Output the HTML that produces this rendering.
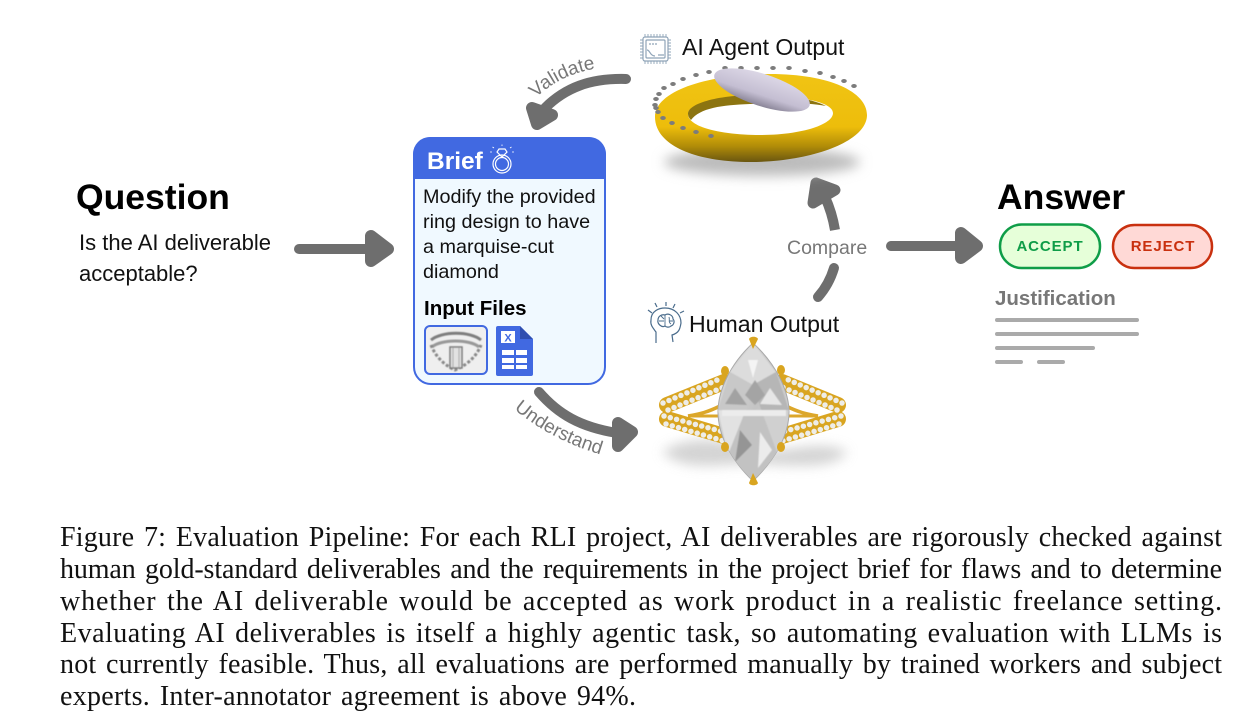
<!DOCTYPE html>
<html><head><meta charset="utf-8"><style>
html,body{margin:0;padding:0;background:#fff;width:1242px;height:720px;overflow:hidden}
svg{display:block}
text{font-family:"Liberation Sans",Arial,sans-serif}
.cap{font-family:"Liberation Serif","Times New Roman",serif;font-size:28px;fill:#111;word-spacing:2.5px}
</style></head><body>
<svg width="1242" height="720" viewBox="0 0 1242 720" xmlns="http://www.w3.org/2000/svg">
<defs>
<filter id="b6" x="-30%" y="-80%" width="160%" height="260%"><feGaussianBlur stdDeviation="6"/></filter>
<filter id="b1" x="-10%" y="-10%" width="120%" height="120%"><feGaussianBlur stdDeviation="0.6"/></filter>
<linearGradient id="gold" x1="0" y1="0" x2="0" y2="1">
<stop offset="0" stop-color="#f0c414"/><stop offset=".6" stop-color="#edbd0b"/><stop offset=".82" stop-color="#b18c08"/><stop offset="1" stop-color="#6a5610"/></linearGradient>
<linearGradient id="gem" x1="0" y1="0" x2="0" y2="1">
<stop offset="0" stop-color="#dcd7e6"/><stop offset=".65" stop-color="#c4bed2"/><stop offset="1" stop-color="#8a8598"/></linearGradient>
<linearGradient id="dia" x1="0" y1="0" x2="1" y2="1">
<stop offset="0" stop-color="#dedede"/><stop offset=".5" stop-color="#c4c4c4"/><stop offset="1" stop-color="#dadada"/></linearGradient>
<clipPath id="mq"><path d="M753 343C777 365 789 392 789 412C789 435 775 460 753 481C731 460 718 435 718 412C718 392 729 365 753 343Z"/></clipPath>
</defs>

<!-- Question -->
<text x="76" y="209" font-size="35.500" font-weight="700" fill="#000">Question</text>
<text x="79" y="250" font-size="22" fill="#111">Is the AI deliverable</text>
<text x="79" y="281" font-size="22" fill="#111">acceptable?</text>

<!-- arrows -->
<g fill="#6e6e6e" stroke="#6e6e6e" stroke-linejoin="round" stroke-linecap="round">
<path d="M299 249H370" fill="none" stroke-width="10"/>
<path d="M371 236L388 249L371 261Z" stroke-width="12"/>
<path d="M891 246H960" fill="none" stroke-width="10"/>
<path d="M961 233L977 246L961 258Z" stroke-width="12"/>
<path d="M626 79C590 78 565 88 545 108" fill="none" stroke-width="10"/>
<path d="M532 108L537 124L552 115Z" stroke-width="12"/>
<path d="M539 392C558 414 580 427 617 433" fill="none" stroke-width="10"/>
<path d="M618 423L632 432L618 446Z" stroke-width="12"/>
<path d="M818 297C826 288 831 278 834 268" fill="none" stroke-width="10"/>
<path d="M835 230C833 218 830 208 825 197" fill="none" stroke-width="10" stroke-linecap="butt"/>
<path d="M816 183L835 190L813 203Z" stroke-width="11"/>
</g>

<text font-size="19" fill="#777"><textPath href="#vp">Validate</textPath></text>
<text font-size="19" fill="#777"><textPath href="#up">Understand</textPath></text>
<path id="vp" d="M536 98Q562 72 606 67" fill="none"/>
<path id="up" d="M514 409Q552 441 606 456" fill="none"/>
<text x="787" y="254" font-size="19.500" fill="#777">Compare</text>

<!-- Brief card -->
<rect x="414" y="138" width="191" height="246" rx="17" fill="#f0f9ff" stroke="#4169e1" stroke-width="2"/>
<path d="M413 179V154a17 17 0 0 1 17-17H589a17 17 0 0 1 17 17V179Z" fill="#4169e1"/>
<text x="427" y="169" font-size="24.500" font-weight="700" fill="#fff">Brief</text>
<g fill="none" stroke="#fff" stroke-width="1.200">
<circle cx="502" cy="164" r="9"/><circle cx="502" cy="164" r="6.500"/>
<path d="M497 152L502 157L507 152L505 149H499Z"/>
<path d="M494 148l-1.500-1M510 148l1.500-1M502 146v-1.500M492 152h-2M512 152h2" stroke-width=".8"/>
</g>
<g font-size="19.800" fill="#111">
<text x="423" y="203">Modify the provided</text>
<text x="423" y="228">ring design to have</text>
<text x="423" y="253">a marquise-cut</text>
<text x="423" y="278">diamond</text>
</g>
<text x="424" y="315" font-size="20.500" font-weight="700" fill="#000">Input Files</text>
<!-- thumb -->
<rect x="425" y="326" width="62" height="48" rx="5" fill="#efefef" stroke="#4169e1" stroke-width="2"/>
<g filter="url(#b1)">
<path d="M431 340C442 331 470 331 481 340" fill="none" stroke="#7e7e7e" stroke-width="3"/>
<path d="M432 347C441 339 470 339 479 347" fill="none" stroke="#999" stroke-width="3"/>
<path d="M431 345C436 358 446 366 455 370C465 366 476 358 481 345" fill="none" stroke="#888" stroke-width="3" stroke-dasharray="3 2"/>
<rect x="450" y="347" width="12" height="21" fill="#e2e2e2" stroke="#7a7a7a" stroke-width="1.500"/>
<path d="M453 348v19M459 348v19" stroke="#a5a5a5"/>
</g>
<!-- doc icon -->
<path d="M498 326H520L533 339V374a2 2 0 0 1-2 2H498a2 2 0 0 1-2-2V328a2 2 0 0 1 2-2Z" fill="#4169e1"/>
<path d="M520 326L533 339H520Z" fill="#2f4fb0"/>
<rect x="501" y="331" width="14" height="12" fill="#fff"/>
<text x="508" y="341.500" font-size="11" font-weight="700" fill="#4169e1" text-anchor="middle">X</text>
<g fill="#fff"><rect x="502" y="350" width="12" height="5"/><rect x="516" y="350" width="11" height="5"/><rect x="502" y="358" width="12" height="5"/><rect x="516" y="358" width="11" height="5"/><rect x="502" y="365" width="12" height="4"/><rect x="516" y="365" width="11" height="4"/></g>

<!-- AI Agent Output -->
<g fill="none" stroke="#8fa4b8" stroke-width="1.200">
<rect x="643" y="37" width="25" height="24" rx="2"/>
<rect x="646" y="40" width="19" height="18" rx="1"/>
<path d="M645 34v3M648 34v3M651 34v3M654 34v3M657 34v3M660 34v3M663 34v3M666 34v3M645 61v3M648 61v3M651 61v3M654 61v3M657 61v3M660 61v3M663 61v3M666 61v3M640 40h3M640 43h3M640 46h3M640 49h3M640 52h3M640 55h3M640 58h3M668 40h3M668 43h3M668 46h3M668 49h3M668 52h3M668 55h3M668 58h3" stroke-width=".9"/>
<path d="M649 44h2M652 44h2M655 44h2M658 55h6M647 50c3 0 3 6 8 6"/>
</g>
<text x="682" y="55" font-size="23" fill="#111">AI Agent Output</text>

<!-- torus -->
<ellipse cx="762" cy="162" rx="98" ry="14" fill="#bcbcbc" filter="url(#b6)"/>
<path fill-rule="evenodd" d="M655 117C655 90 710 74 770 74C830 74 867 92 867 115C867 142 810 162 750 162C695 162 655 145 655 117Z M688 114C688 128 725 135 760 135C800 135 833 125 833 113C833 102 800 96 765 96C725 96 688 102 688 114Z" fill="url(#gold)"/>
<path d="M688 114C688 102 725 94 765 95C790 95 815 100 826 106C805 102 780 103 750 104C722 105 700 108 691 120C689 118 688 116 688 114Z" fill="#8c7410"/>
<!-- dots -->
<g fill="#7c7c7c">
<ellipse cx="854" cy="86" rx="2.800" ry="2"/><ellipse cx="844" cy="81" rx="2.800" ry="2"/><ellipse cx="833" cy="77" rx="2.800" ry="2"/><ellipse cx="820" cy="73" rx="2.800" ry="2"/><ellipse cx="805" cy="71" rx="2.800" ry="2"/><ellipse cx="789" cy="68" rx="2.800" ry="2"/><ellipse cx="773" cy="68" rx="2.800" ry="2"/><ellipse cx="757" cy="68" rx="2.800" ry="2"/><ellipse cx="741" cy="68" rx="2.800" ry="2"/><ellipse cx="725" cy="68" rx="2.800" ry="2"/><ellipse cx="709" cy="72" rx="2.800" ry="2"/><ellipse cx="696" cy="75" rx="2.800" ry="2"/><ellipse cx="683" cy="79" rx="2.800" ry="2"/><ellipse cx="673" cy="84" rx="2.800" ry="2"/><ellipse cx="664" cy="88" rx="2.800" ry="2"/><ellipse cx="659" cy="94" rx="2.800" ry="2"/><ellipse cx="656" cy="99" rx="2.800" ry="2"/><ellipse cx="655" cy="105" rx="2.800" ry="2"/><ellipse cx="656" cy="108" rx="2.800" ry="2"/><ellipse cx="658" cy="112" rx="2.800" ry="2"/><ellipse cx="663" cy="118" rx="2.800" ry="2"/><ellipse cx="672" cy="123" rx="2.800" ry="2"/><ellipse cx="683" cy="128" rx="2.800" ry="2"/><ellipse cx="696" cy="132" rx="2.800" ry="2"/><ellipse cx="711" cy="136" rx="2.800" ry="2"/>
</g>
<ellipse cx="762" cy="90" rx="50" ry="16" transform="rotate(18 762 90)" fill="url(#gem)"/>

<!-- Human Output -->
<g fill="none" stroke="#4a6c8c" stroke-width="1.200">
<path d="M656 343V332C653 328 650 325 651 320C651 311 659 308 665 308C675 308 681 315 681 323C680 329 679 333 672 335L673 342"/>
<path d="M658 320c0-4 4-6 7-5c3-2 8 0 8 4c2 2 1 6-2 7c-2 2-5 1-6 0c-3 2-8-2-7-6Z"/>
<path d="M665 315v11M669 317c1 3-1 5 2 7M659 321h5M669 321h4M661 316l3 3" stroke-width=".9"/>
<path d="M648 310l4 3M655 303l2 4M666 302v4M675 304l-2 4M684 311l-4 2"/>
</g>
<text x="689" y="332" font-size="23.100" fill="#111">Human Output</text>

<!-- real ring -->
<path d="M662 452C685 436 720 438 750 448C780 458 815 436 848 452C830 472 790 464 750 464C715 464 685 472 662 452Z" fill="#cfcfcf" filter="url(#b6)" opacity=".9"/>
<g fill="none">
<path d="M688 416C700 414 708 412 720 406" stroke="#dca72a" stroke-width="3.500"/>
<path d="M688 416H722" stroke="#dca72a" stroke-width="3"/>
<path d="M818 416C806 414 798 412 786 406" stroke="#dca72a" stroke-width="3.500"/>
<path d="M818 416H784" stroke="#dca72a" stroke-width="3"/>
<g stroke="#d9a521" stroke-width="16" stroke-linecap="round">
<path d="M667 405L724 382"/><path d="M667 419L724 436"/>
<path d="M838 405L782 382"/><path d="M838 419L782 436"/>
</g>
<g stroke="#eeede8" stroke-width="5.500" stroke-dasharray="0 6.500" stroke-linecap="round">
<path d="M663 403L722 378"/><path d="M668 410L724 387"/>
<path d="M664 416L724 432"/><path d="M666 424L724 441"/>
<path d="M842 403L784 378"/><path d="M837 410L782 387"/>
<path d="M841 416L782 432"/><path d="M839 424L782 441"/>
</g>
</g>
<!-- diamond -->
<path d="M753 343C777 365 789 392 789 412C789 435 775 460 753 481C731 460 718 435 718 412C718 392 729 365 753 343Z" fill="url(#dia)" stroke="#a8a8a8" stroke-width="1"/>
<g clip-path="url(#mq)" filter="url(#b1)">
<path d="M753 343L730 372L753 385L776 372Z" fill="#dcdcdc"/>
<path d="M753 385L730 372L718 410L745 412Z" fill="#c8c8c8"/>
<path d="M753 385L776 372L789 410L762 412Z" fill="#b6b6b6"/>
<path d="M718 410L745 412L728 455Z" fill="#e2e2e2"/>
<path d="M789 410L762 412L778 455Z" fill="#d0d0d0"/>
<path d="M745 412L762 412L778 455L753 481L728 455Z" fill="#c2c2c2"/>
<path d="M740 430L752 445L735 462Z" fill="#959595"/>
<path d="M760 432L772 450L758 468Z" fill="#ececec"/>
<path d="M735 388L747 405L725 404Z" fill="#a2a2a2"/>
<path d="M770 388L782 405L760 404Z" fill="#e6e6e6"/>
<path d="M748 360L758 360L753 378Z" fill="#f4f4f4"/>
<path d="M722 410H786V416H722Z" fill="#ececec"/>
<path d="M745 395L755 380L765 395L755 405Z" fill="#a4a4a4"/>
</g>
<!-- prongs -->
<g fill="#d9a520">
<path d="M749 339L753 349L758 339C757 336 750 336 749 339Z"/>
<path d="M749 483L753 473L758 483C757 486 750 486 749 483Z"/>
<ellipse cx="725" cy="371" rx="4" ry="5"/><ellipse cx="781" cy="370" rx="4" ry="5"/>
<ellipse cx="725" cy="447" rx="4" ry="5"/><ellipse cx="781" cy="447" rx="4" ry="5"/>
</g>

<!-- Answer -->
<text x="997" y="209" font-size="35.500" font-weight="700" fill="#000">Answer</text>
<rect x="1000" y="224.500" width="100" height="43.500" rx="21.700" fill="#e6ffd9" stroke="#0f9d48" stroke-width="2.500"/>
<text x="1050" y="251" font-size="15" font-weight="700" fill="#0f9d48" text-anchor="middle" letter-spacing=".9">ACCEPT</text>
<rect x="1113" y="225" width="99" height="43" rx="21.500" fill="#ffd9d6" stroke="#c9300f" stroke-width="2.500"/>
<text x="1163" y="251" font-size="15" font-weight="700" fill="#c9300f" text-anchor="middle" letter-spacing=".9">REJECT</text>
<text x="995" y="305" font-size="20.500" font-weight="700" fill="#777">Justification</text>
<g stroke="#aaa" stroke-width="4" stroke-linecap="round">
<path d="M997 320H1137M997 334H1137M997 348H1093M997 362H1021M1039 362H1063"/>
</g>

<!-- caption -->
<text class="cap" x="60" y="546" textLength="1162" lengthAdjust="spacing">Figure 7: Evaluation Pipeline: For each RLI project, AI deliverables are rigorously checked against</text>
<text class="cap" x="60" y="578" textLength="1162" lengthAdjust="spacing">human gold-standard deliverables and the requirements in the project brief for flaws and to determine</text>
<text class="cap" x="60" y="610" textLength="1162" lengthAdjust="spacing">whether the AI deliverable would be accepted as work product in a realistic freelance setting.</text>
<text class="cap" x="60" y="642" textLength="1162" lengthAdjust="spacing">Evaluating AI deliverables is itself a highly agentic task, so automating evaluation with LLMs is</text>
<text class="cap" x="60" y="673" textLength="1162" lengthAdjust="spacing">not currently feasible. Thus, all evaluations are performed manually by trained workers and subject</text>
<text class="cap" x="60" y="705" textLength="576" lengthAdjust="spacing">experts. Inter-annotator agreement is above 94%.</text>
</svg>
</body></html>
